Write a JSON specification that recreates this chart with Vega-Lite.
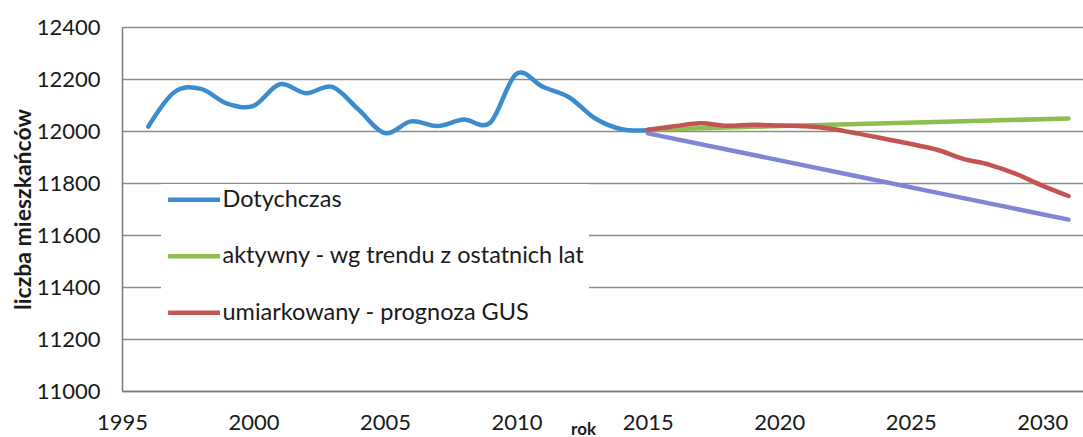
{
  "$schema": "https://vega.github.io/schema/vega-lite/v6.json",
  "width": 961,
  "height": 364,
  "autosize": {"type": "none"},
  "padding": {"left": 122, "top": 27, "right": 0, "bottom": 46},
  "background": "white",
  "config": {"view": {"stroke": null}, "font": "Lato"},
  "data": {
    "values": [
      {"rok": 1996, "liczba": 12017, "seria": "Dotychczas"},
      {"rok": 1997, "liczba": 12150, "seria": "Dotychczas"},
      {"rok": 1998, "liczba": 12162, "seria": "Dotychczas"},
      {"rok": 1999, "liczba": 12105, "seria": "Dotychczas"},
      {"rok": 2000, "liczba": 12097, "seria": "Dotychczas"},
      {"rok": 2001, "liczba": 12180, "seria": "Dotychczas"},
      {"rok": 2002, "liczba": 12145, "seria": "Dotychczas"},
      {"rok": 2003, "liczba": 12170, "seria": "Dotychczas"},
      {"rok": 2004, "liczba": 12082, "seria": "Dotychczas"},
      {"rok": 2005, "liczba": 11992, "seria": "Dotychczas"},
      {"rok": 2006, "liczba": 12037, "seria": "Dotychczas"},
      {"rok": 2007, "liczba": 12019, "seria": "Dotychczas"},
      {"rok": 2008, "liczba": 12044, "seria": "Dotychczas"},
      {"rok": 2009, "liczba": 12032, "seria": "Dotychczas"},
      {"rok": 2010, "liczba": 12220, "seria": "Dotychczas"},
      {"rok": 2011, "liczba": 12170, "seria": "Dotychczas"},
      {"rok": 2012, "liczba": 12130, "seria": "Dotychczas"},
      {"rok": 2013, "liczba": 12048, "seria": "Dotychczas"},
      {"rok": 2014, "liczba": 12007, "seria": "Dotychczas"},
      {"rok": 2015, "liczba": 12003, "seria": "Dotychczas"},
      {"rok": 2015, "liczba": 12005, "seria": "aktywny - wg trendu z ostatnich lat"},
      {"rok": 2023, "liczba": 12027, "seria": "aktywny - wg trendu z ostatnich lat"},
      {"rok": 2031, "liczba": 12048, "seria": "aktywny - wg trendu z ostatnich lat"},
      {"rok": 2015, "liczba": 11991, "seria": "pesymistyczny"},
      {"rok": 2023, "liczba": 11825, "seria": "pesymistyczny"},
      {"rok": 2031, "liczba": 11659, "seria": "pesymistyczny"},
      {"rok": 2015, "liczba": 12005, "seria": "umiarkowany - prognoza GUS"},
      {"rok": 2016, "liczba": 12018, "seria": "umiarkowany - prognoza GUS"},
      {"rok": 2017, "liczba": 12030, "seria": "umiarkowany - prognoza GUS"},
      {"rok": 2018, "liczba": 12020, "seria": "umiarkowany - prognoza GUS"},
      {"rok": 2019, "liczba": 12024, "seria": "umiarkowany - prognoza GUS"},
      {"rok": 2020, "liczba": 12021, "seria": "umiarkowany - prognoza GUS"},
      {"rok": 2021, "liczba": 12018, "seria": "umiarkowany - prognoza GUS"},
      {"rok": 2022, "liczba": 12008, "seria": "umiarkowany - prognoza GUS"},
      {"rok": 2023, "liczba": 11990, "seria": "umiarkowany - prognoza GUS"},
      {"rok": 2024, "liczba": 11970, "seria": "umiarkowany - prognoza GUS"},
      {"rok": 2025, "liczba": 11950, "seria": "umiarkowany - prognoza GUS"},
      {"rok": 2026, "liczba": 11928, "seria": "umiarkowany - prognoza GUS"},
      {"rok": 2027, "liczba": 11893, "seria": "umiarkowany - prognoza GUS"},
      {"rok": 2028, "liczba": 11870, "seria": "umiarkowany - prognoza GUS"},
      {"rok": 2029, "liczba": 11835, "seria": "umiarkowany - prognoza GUS"},
      {"rok": 2030, "liczba": 11790, "seria": "umiarkowany - prognoza GUS"},
      {"rok": 2031, "liczba": 11750, "seria": "umiarkowany - prognoza GUS"}
    ]
  },
  "mark": {"type": "line", "interpolate": "cardinal", "strokeWidth": 4.5, "strokeCap": "round", "clip": true},
  "encoding": {
    "x": {
      "field": "rok", "type": "quantitative",
      "scale": {"domain": [1995, 2031.55], "nice": false, "zero": false},
      "axis": {
        "values": [1995, 2000, 2005, 2010, 2015, 2020, 2025, 2030],
        "format": "d", "grid": false, "ticks": false,
        "domainColor": "#7a7a7a", "domainWidth": 1.5,
        "labelFont": "Lato", "labelFontSize": 22, "labelColor": "#1a1a1a",
        "labelPadding": 21, "labelDx": 4, "labelFlush": false,
        "title": "rok", "titleFont": "Lato", "titleFontSize": 17, "titleFontWeight": "bold",
        "titleColor": "#1a1a1a", "titleX": 461, "titleY": 43, "titleBaseline": "alphabetic", "titleAnchor": "middle", "titleAlign": "center"
      }
    },
    "y": {
      "field": "liczba", "type": "quantitative",
      "scale": {"domain": [11000, 12400], "nice": false, "zero": false},
      "axis": {
        "values": [11000, 11200, 11400, 11600, 11800, 12000, 12200, 12400],
        "format": "d", "grid": true, "gridColor": "#8c8c8c", "gridWidth": 1.5,
        "ticks": false, "domainColor": "#7a7a7a", "domainWidth": 1.5,
        "labelFont": "Lato", "labelFontSize": 22, "labelColor": "#1a1a1a", "labelPadding": 22,
        "title": "liczba mieszkańców", "titleFont": "Lato", "titleFontSize": 23, "titleFontWeight": "bold",
        "titleColor": "#1a1a1a", "titlePadding": 1
      }
    },
    "color": {
      "field": "seria", "type": "nominal",
      "scale": {
        "domain": ["Dotychczas", "aktywny - wg trendu z ostatnich lat", "umiarkowany - prognoza GUS", "pesymistyczny"],
        "range": ["#3a8ccf", "#8cbf50", "#c45452", "#7f86d4"]
      },
      "legend": {
        "orient": "none", "legendX": 39, "legendY": 157,
        "values": ["Dotychczas", "aktywny - wg trendu z ostatnich lat", "umiarkowany - prognoza GUS"],
        "title": null, "fillColor": "white", "padding": 4,
        "symbolType": "M-1,0H5", "symbolSize": 300, "symbolStrokeWidth": 4.5,
        "labelFont": "Lato", "labelFontSize": 23.5, "labelColor": "#1a1a1a", "labelOffset": 34,
        "labelLimit": 600, "rowPadding": 31.5
      }
    },
    "order": {"field": "rok", "type": "quantitative"}
  }
}
